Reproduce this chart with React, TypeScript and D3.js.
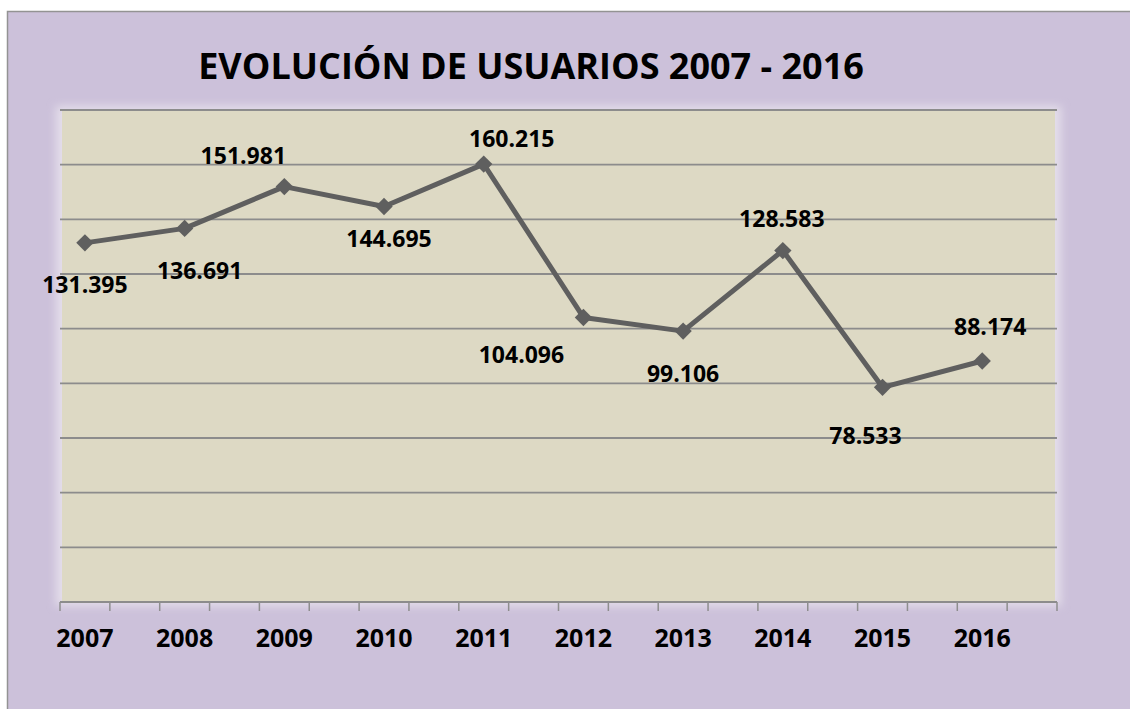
import React from 'react';
import * as d3 from 'd3';

// data
const years = ['2007', '2008', '2009', '2010', '2011', '2012', '2013', '2014', '2015', '2016'];
const usuarios = [131.395, 136.691, 151.981, 144.695, 160.215, 104.096, 99.106, 128.583, 78.533, 88.174];
const valueLabels = ['131.395', '136.691', '151.981', '144.695', '160.215', '104.096', '99.106', '128.583', '78.533', '88.174'];
const title = 'EVOLUCIÓN DE USUARIOS 2007 - 2016';

// manual data label placement (dx, dy from the point)
const labelOffsets = [
  [0, 50], [15, 51], [-41, -23], [5, 40], [28, -17],
  [-62, 46], [0, 51], [-1, -24], [-17, 57], [8, -26],
];

const W = 1130;
const H = 709;
const plot = { left: 60, right: 1057, top: 110, bottom: 602 };
const font = '"Open Sans", sans-serif';

const App = () => {
  // each year takes two slots on the category axis
  const slots = d3.range(years.length * 2);
  const x = d3.scaleBand<number>()
    .domain(slots)
    .range([plot.left, plot.right])
    .padding(0);
  const cx = (i: number) => x(i * 2)! + x.bandwidth() / 2;

  const y = d3.scaleLinear()
    .domain([0, 180])
    .range([plot.bottom, plot.top]);

  const line = d3.line<number>()
    .x((d, i) => cx(i))
    .y((d) => y(d));

  const diamond = d3.symbol().type(d3.symbolSquare).size(150)();

  const tickXs = slots.map((s) => x(s)!).concat([plot.right]);

  return (
    <svg width={W} height={H} style={{ position: 'absolute', left: 0, top: 0, display: 'block' }}>
      <defs>
        <filter id="glow" x="-5%" y="-5%" width="110%" height="110%">
          <feGaussianBlur stdDeviation="4" />
        </filter>
      </defs>
      <rect x={0} y={0} width={W} height={H} fill="#ffffff" />
      <rect x={7.5} y={11.5} width={W + 10} height={H + 10} fill="#CCC1DA" stroke="#939393" strokeWidth={1.5} />

      <text x={531} y={79} textAnchor="middle" fontFamily={font} fontWeight={700} fontSize={36} fill="#000">
        {title}
      </text>

      {/* plot area */}
      <rect x={plot.left - 4} y={plot.top - 4} width={plot.right - plot.left + 8} height={plot.bottom - plot.top + 8}
        fill="#E4DEEA" filter="url(#glow)" />
      <rect x={plot.left + 2} y={plot.top} width={plot.right - plot.left - 4} height={plot.bottom - plot.top} fill="#DDD9C4" />

      {y.ticks(9).map((t) => (
        <line key={t} x1={plot.left} x2={plot.right} y1={y(t)} y2={y(t)}
          stroke="#8c8c8c" strokeWidth={1.8} />
      ))}

      {tickXs.map((tx, i) => (
        <line key={i} x1={tx} x2={tx} y1={plot.bottom} y2={plot.bottom + 9} stroke="#8e8e8e" strokeWidth={1.5} />
      ))}

      {years.map((yr, i) => (
        <text key={yr} x={cx(i)} y={647} textAnchor="middle" fontFamily={font} fontWeight={700} fontSize={25} fill="#000">
          {yr}
        </text>
      ))}

      <path d={line(usuarios) || ''} fill="none" stroke="#5F5F5F" strokeWidth={5} strokeLinejoin="round" />
      {usuarios.map((v, i) => (
        <path key={i} d={diamond || ''} transform={`translate(${cx(i)},${y(v)}) rotate(45)`} fill="#5F5F5F" />
      ))}

      {usuarios.map((v, i) => (
        <text key={i} x={cx(i) + labelOffsets[i][0]} y={y(v) + labelOffsets[i][1]} textAnchor="middle"
          fontFamily={font} fontWeight={700} fontSize={23} fill="#000">
          {valueLabels[i]}
        </text>
      ))}
    </svg>
  );
};

export default App;
